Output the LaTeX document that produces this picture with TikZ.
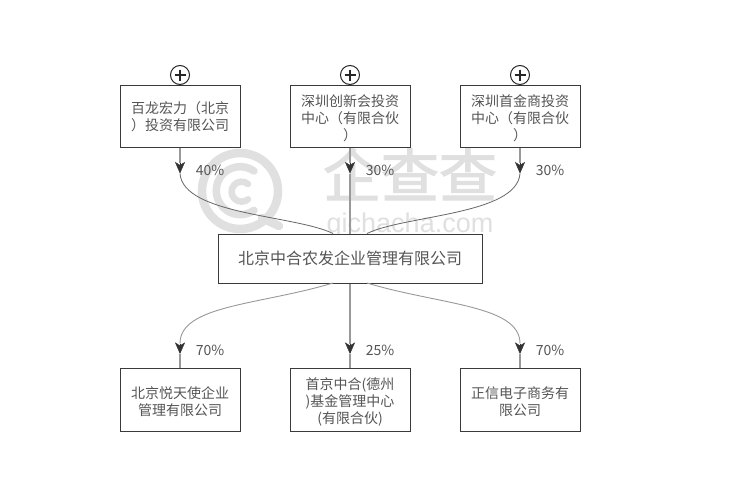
\documentclass[tikz,border=0pt]{standalone}
\usepackage{fontspec}
\setmainfont{Noto Sans CJK SC}
\setsansfont{Liberation Sans}
\newfontfamily\wmfont[FakeBold=2]{Noto Sans CJK SC}
\usetikzlibrary{arrows.meta}
\definecolor{wm}{HTML}{E0E0E0}
\definecolor{txt}{HTML}{555555}
\definecolor{edge}{HTML}{3A3A3A}
\definecolor{linegray}{HTML}{999999}
\newcommand{\lowerit}{\rule{0pt}{16pt}}
\tikzset{
  x=1pt,y=-1pt,
  box/.style={draw=edge,line width=1pt,fill=white,minimum width=120pt,minimum height=62.5pt,align=center,text=txt,font=\fontsize{14}{17}\selectfont,inner sep=0pt},
  plusmark/.style={circle,draw=black!85,line width=1pt,minimum size=19pt,inner sep=0pt},
  pct/.style={text=txt,font=\fontsize{14}{17}\selectfont,inner sep=0pt},
  stem/.style={draw=linegray,line width=1.3pt},
  curve/.style={draw=black!60,line width=0.8pt},
  lowcurve/.style={draw=linegray,line width=0.9pt},
  tip/.style={draw=black!80,line width=0.4pt,-{Stealth[length=11.5pt,width=10pt,inset=3pt,fill=black!80]}},
  ring/.style={draw=wm,line width=8.5pt},
}
\begin{document}
\begin{tikzpicture}
\useasboundingbox (0,0) rectangle (729,485);
\fill[white] (0,0) rectangle (729,485);
% watermark
\draw[ring] (240,191) circle[radius=38pt];
\draw[ring,line cap=round] (262,218) -- (279,226);
\draw[ring,line width=7.5pt,line cap=round] (254,171) arc[start angle=-55,delta angle=-250,radius=24];
\draw[ring,line width=6.5pt,line cap=round] (248,184) arc[start angle=-50,delta angle=-260,radius=10];
\node[text=wm,font=\wmfont\fontsize{58}{58}\selectfont,inner sep=0pt] (wmt) at (410,174) {企查查};
\node[text=wm,font=\sffamily\fontsize{27}{27}\selectfont,inner sep=0pt] (wmu) at (410,226) {qichacha.com};
% nodes
\node[box] (t1) at (180,116.5) {百龙宏力（北京\\）投资有限公司};
\node[box] (t2) at (350,116.5) {\lowerit 深圳创新会投资\\中心（有限合伙\\）};
\node[box] (t3) at (520,116.5) {\lowerit 深圳首金商投资\\中心（有限合伙\\）};
\node[box,minimum width=264pt,minimum height=49pt,font=\fontsize{16}{19}\selectfont] (c) at (350,258.5) {北京中合农发企业管理有限公司};
\node[box] (b1) at (180,400) {\lowerit 北京悦天使企业\\管理有限公司};
\node[box] (b2) at (350,400) {\lowerit 首京中合(德州\\)基金管理中心\\(有限合伙)};
\node[box] (b3) at (520,400) {\lowerit 正信电子商务有\\限公司};
\foreach \n/\x in {p1/180,p2/350,p3/520}{
  \node[plusmark] (\n) at (\x,75) {};
  \draw[black!85,line width=1.2pt] (\n.center) ++(-5.5,0) -- ++(11,0) (\n.center) ++(0,-5.5) -- ++(0,11);
}
% connector joints
\coordinate (u1) at (180,163);
\coordinate (u2) at (350,163);
\coordinate (u3) at (520,163);
\coordinate (a1) at (180,173.5);
\coordinate (a2) at (350,173.5);
\coordinate (a3) at (520,173.5);
\coordinate (e1) at (180,343.5);
\coordinate (e2) at (350,343.5);
\coordinate (e3) at (520,343.5);
\coordinate (d1) at (180,354);
\coordinate (d2) at (350,354);
\coordinate (d3) at (520,354);
\coordinate (ci1) at (333,233.5);
\coordinate (ci3) at (367,233.5);
\coordinate (co1) at (333,283);
\coordinate (co3) at (367,283);
% upper connectors
\draw[stem] (t1.south) -- (u1);
\draw[stem] (t2.south) -- (u2);
\draw[stem] (t3.south) -- (u3);
\draw[curve] (a1) .. controls (183,215) and (295,215) .. (ci1);
\draw[stem] (a2) -- (c.north);
\draw[curve] (a3) .. controls (517,215) and (405,215) .. (ci3);
% lower connectors
\draw[lowcurve] (co1) .. controls (260,305) and (180,305) .. (e1);
\draw[stem] (c.south) -- (e2);
\draw[lowcurve] (co3) .. controls (440,305) and (520,305) .. (e3);
\draw[stem] (d1) -- (b1.north);
\draw[stem] (d2) -- (b2.north);
\draw[stem] (d3) -- (b3.north);
% arrowheads
\foreach \p/\q in {u1/a1,u2/a2,u3/a3,e1/d1,e2/d2,e3/d3}{
  \draw[tip] (\p) -- (\q);
}
% labels
\node[pct] (l1) at (210,170) {40\%};
\node[pct] (l2) at (380,170) {30\%};
\node[pct] (l3) at (550,170) {30\%};
\node[pct] (l4) at (210,350) {70\%};
\node[pct] (l5) at (380,350) {25\%};
\node[pct] (l6) at (550,350) {70\%};
\end{tikzpicture}
\end{document}
